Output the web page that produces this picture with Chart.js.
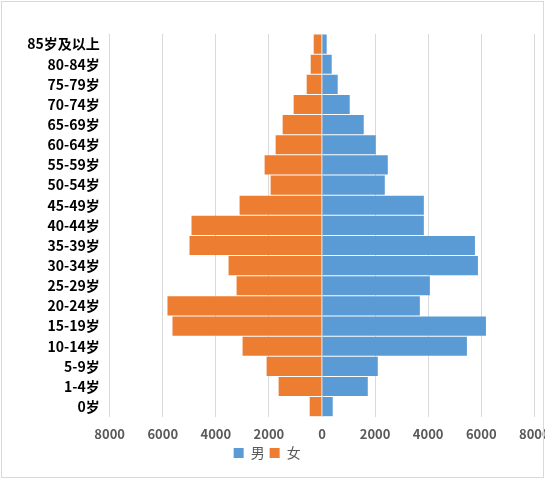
<!DOCTYPE html>
<html>
<head>
<meta charset="utf-8">
<script src="https://cdn.jsdelivr.net/npm/chart.js@4/dist/chart.umd.min.js"></script>
<style>
  html, body { margin: 0; padding: 0; background: #fff; }
  #wrap { position: relative; width: 545px; height: 479px; overflow: hidden; }
  #wrap canvas { position: absolute; left: 0; top: 0; }
  #frame { position: absolute; left: 1px; top: 1px; width: 543px; height: 477px; box-sizing: border-box; border: 1px solid #d9d9d9; pointer-events: none; }
</style>
</head>
<body>
<div id="wrap">
  <canvas id="c" width="545" height="479"></canvas>
  <div id="frame"></div>
</div>
<script>
const categories = ['0岁','1-4岁','5-9岁','10-14岁','15-19岁','20-24岁','25-29岁','30-34岁','35-39岁','40-44岁','45-49岁','50-54岁','55-59岁','60-64岁','65-69岁','70-74岁','75-79岁','80-84岁','85岁及以上'];
const male   = [404, 1725, 2102, 5461, 6178, 3687, 4065, 5876, 5763, 3838, 3838, 2366, 2479, 2026, 1573, 1045, 592, 366, 177];
const female = [464, 1634, 2087, 2993, 5634, 5823, 3219, 3521, 4993, 4917, 3106, 1936, 2162, 1747, 1483, 1068, 577, 426, 313];
const xTicks = [-8000, -6000, -4000, -2000, 0, 2000, 4000, 6000, 8000];

const femaleNeg = female.map(v => -v);

new Chart(document.getElementById('c'), {
  type: 'bar',
  data: {
    labels: categories,
    datasets: [
      { label: '男', data: male, backgroundColor: '#5B9BD5', borderWidth: 0, barPercentage: 1, categoryPercentage: 0.95 },
      { label: '女', data: femaleNeg, backgroundColor: '#ED7D31', borderWidth: 0, barPercentage: 1, categoryPercentage: 0.95 }
    ]
  },
  options: {
    indexAxis: 'y',
    responsive: false,
    animation: false,
    devicePixelRatio: 1,
    layout: { autoPadding: false, padding: { top: 34, right: 10.7, left: 0, bottom: 9 } },
    plugins: {
      legend: {
        position: 'bottom',
        labels: {
          boxWidth: 10, boxHeight: 10, padding: 5,
          color: '#595959',
          font: { family: '"Noto Sans CJK SC", "Noto Sans", sans-serif', size: 14 }
        }
      },
      tooltip: { enabled: false }
    },
    scales: {
      x: {
        stacked: true,
        min: -8000, max: 8000,
        afterBuildTicks: (axis) => { axis.ticks = xTicks.map(v => ({ value: v })); },
        afterFit: (axis) => { axis.paddingLeft = 0; axis.paddingRight = 0; axis.height = 24.3; },
        ticks: {
          callback: (v) => Math.abs(v),
          color: '#595959',
          padding: 10,
          maxRotation: 0,
          font: { family: '"Noto Sans CJK SC", "Noto Sans", sans-serif', size: 13, weight: 'bold' }
        },
        grid: { color: '#d9d9d9', lineWidth: 1, drawTicks: false },
        border: { display: false }
      },
      y: {
        stacked: true,
        reverse: true,
        afterFit: (axis) => { axis.width = 109.7; axis.paddingTop = 0; axis.paddingBottom = 0; },
        ticks: {
          autoSkip: false,
          color: '#000',
          padding: 10,
          font: { family: '"Noto Sans CJK SC", "Noto Sans", sans-serif', size: 14, weight: 'bold' }
        },
        grid: { display: false, drawTicks: false },
        border: { display: false }
      }
    }
  }
});
</script>
</body>
</html>
